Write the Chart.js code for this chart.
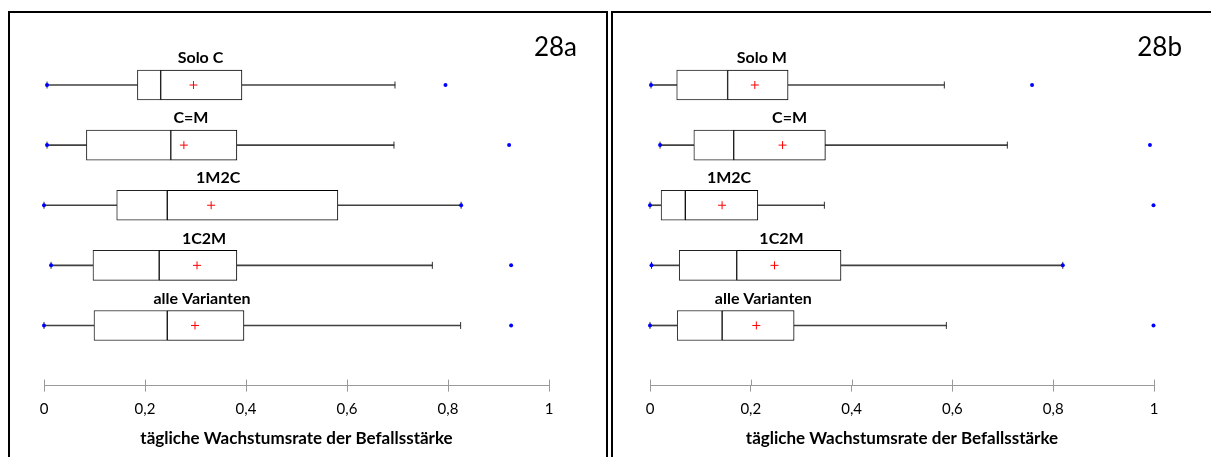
<!DOCTYPE html>
<html>
<head>
<meta charset="utf-8">
<script src="https://cdn.jsdelivr.net/npm/chart.js@4.4.1/dist/chart.umd.min.js"></script>
<style>
    body { margin: 0; background: #fff; width: 1211px; height: 457px; overflow: hidden; position: relative; }
    .panel { position: absolute; top: 11px; border-top: 2px solid #000; box-sizing: content-box; }
    #panel-a { left: 8px; width: 596px; height: 444px; border-left: 2px solid #000; border-right: 2px solid #000; }
    #panel-b { left: 611px; width: 598px; height: 444px; border-left: 2px solid #000; }
    canvas { display: block; }
</style>
</head>
<body>
<div class="panel" id="panel-a"><canvas id="chart-a" width="596" height="444"></canvas></div>
<div class="panel" id="panel-b"><canvas id="chart-b" width="598" height="444"></canvas></div>
<script>
// 28a: Varianten mit C
const catsA = ['Solo C', 'C=M', '1M2C', '1C2M', 'alle Varianten'];
const minA = [0.006, 0.006, 0.0, 0.014, 0.0];
const q1A = [0.185, 0.084, 0.144, 0.097, 0.099];
const medA = [0.231, 0.251, 0.244, 0.228, 0.244];
const q3A = [0.392, 0.382, 0.582, 0.382, 0.396];
const whiskA = [0.695, 0.693, 0.826, 0.769, 0.825];
const meanA = [0.296, 0.277, 0.331, 0.303, 0.299];
const maxA = [0.795, 0.921, 0.826, 0.925, 0.925];

// 28b: Varianten mit M
const catsB = ['Solo M', 'C=M', '1M2C', '1C2M', 'alle Varianten'];
const minB = [0.002, 0.020, 0.0, 0.003, 0.0];
const q1B = [0.053, 0.087, 0.022, 0.058, 0.054];
const medB = [0.154, 0.166, 0.070, 0.172, 0.143];
const q3B = [0.274, 0.348, 0.214, 0.379, 0.286];
const whiskB = [0.584, 0.709, 0.346, 0.819, 0.588];
const meanB = [0.208, 0.263, 0.143, 0.247, 0.211];
const maxB = [0.758, 0.992, 0.999, 0.819, 0.999];

const xTicks = [0, 0.2, 0.4, 0.6, 0.8, 1];
const axisTitle = 'tägliche Wachstumsrate der Befallsstärke';

const FONT = 'Lato, Carlito, "Open Sans", sans-serif';

// labels above the boxes, tick marks above the axis line, panel tag
const boxLabels = {
    id: 'boxLabels',
    afterDatasetsDraw(chart, args, opts) {
        const ctx = chart.ctx;
        const x = chart.scales.x;
        const y = chart.scales.y;
        ctx.save();
        ctx.fillStyle = '#000';
        ctx.font = 'bold 16px ' + FONT;
        ctx.textAlign = 'center';
        ctx.textBaseline = 'middle';
        opts.cats.forEach((c, i) => {
            ctx.fillText(c, x.getPixelForValue(opts.means[i]) + 7, y.getPixelForValue(i) - 27);
        });

        ctx.strokeStyle = '#999';
        ctx.lineWidth = 1;
        const base = chart.chartArea.bottom;
        xTicks.forEach(t => {
            const px = Math.round(x.getPixelForValue(t)) + 0.5;
            ctx.beginPath();
            ctx.moveTo(px, base - 6);
            ctx.lineTo(px, base);
            ctx.stroke();
        });

        ctx.font = '26px ' + FONT;
        ctx.textAlign = 'right';
        ctx.fillText(opts.tag, chart.width - 29, 35);
        ctx.restore();
    }
};

function makePanel(canvasId, tag, cats, mins, q1s, meds, q3s, whisks, means, maxs, padLeft, padRight) {
    const pairs = (a, b) => a.map((v, i) => [v, b[i]]);
    const pts = vals => vals.map((v, i) => ({ x: v, y: cats[i] }));

    new Chart(document.getElementById(canvasId), {
        type: 'bar',
        data: {
            labels: [...cats, ''],
            datasets: [
                // whiskers
                { data: pairs(mins, q1s), backgroundColor: '#404040', barThickness: 1, borderWidth: 0, grouped: false, order: 5 },
                { data: pairs(q3s, whisks), backgroundColor: '#404040', barThickness: 1, borderWidth: 0, grouped: false, order: 5 },
                // box halves
                { data: pairs(q1s, meds), backgroundColor: '#fff', borderColor: '#222', borderWidth: 1, borderSkipped: false, barThickness: 30, grouped: false, order: 4 },
                { data: pairs(meds, q3s), backgroundColor: '#fff', borderColor: '#000', borderWidth: 1, borderSkipped: false, barThickness: 30, grouped: false, order: 4 },
                // whisker caps
                { type: 'scatter', data: pts(whisks).concat(pts(mins)), pointStyle: 'line', rotation: 90, radius: 3.5, borderColor: '#333', borderWidth: 1, order: 3 },
                // means
                { type: 'scatter', data: pts(means), pointStyle: 'cross', radius: 4, borderColor: '#ff0000', borderWidth: 1, order: 2 },
                // minimum and maximum
                { type: 'scatter', data: pts(mins).concat(pts(maxs)), pointStyle: 'circle', radius: 2, backgroundColor: '#0000ff', borderColor: '#0000ff', borderWidth: 0, order: 1 }
            ]
        },
        options: {
            indexAxis: 'y',
            responsive: false,
            animation: false,
            events: [],
            clip: false,
            layout: { padding: { left: padLeft, right: padRight, top: 72, bottom: 8 } },
            plugins: {
                legend: { display: false },
                tooltip: { enabled: false },
                boxLabels: { cats: cats, means: means, tag: tag }
            },
            scales: {
                y: { type: 'category', display: false, offset: false },
                x: {
                    type: 'linear',
                    min: 0,
                    max: 1,
                    afterBuildTicks: s => { s.ticks = xTicks.map(v => ({ value: v })); },
                    ticks: {
                        color: '#000',
                        font: { family: FONT, size: 15 },
                        padding: 9,
                        callback: v => String(v).replace('.', ',')
                    },
                    grid: { drawOnChartArea: false, drawTicks: true, tickLength: 6, color: '#999' },
                    border: { color: '#999', width: 1 },
                    title: {
                        display: true,
                        text: axisTitle,
                        color: '#000',
                        font: { family: FONT, size: 17, weight: 'bold' },
                        padding: { top: 1, bottom: 0 }
                    }
                }
            }
        },
        plugins: [boxLabels]
    });
}

makePanel('chart-a', '28a', catsA, minA, q1A, medA, q3A, whiskA, meanA, maxA, 34, 57);
makePanel('chart-b', '28b', catsB, minB, q1B, medB, q3B, whiskB, meanB, maxB, 37, 57);
</script>
</body>
</html>
